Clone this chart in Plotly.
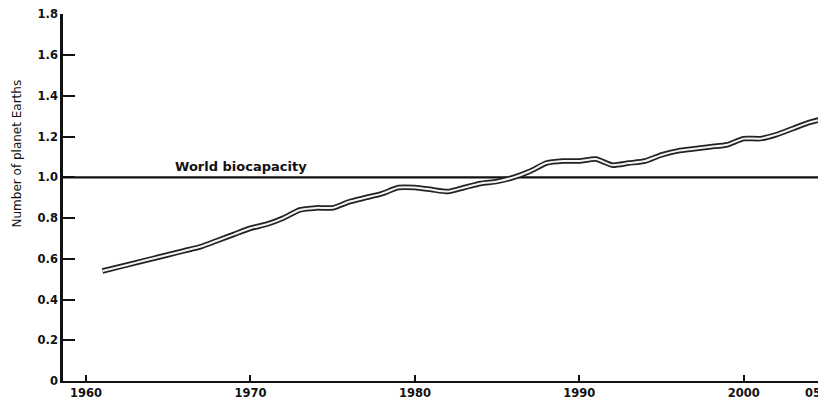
import plotly.graph_objects as go

years = list(range(1961, 2006))
footprint = [0.54, 0.56, 0.58, 0.60, 0.62, 0.64, 0.66, 0.69, 0.72, 0.75,
             0.77, 0.80, 0.84, 0.85, 0.85, 0.88, 0.90, 0.92, 0.95, 0.95,
             0.94, 0.93, 0.95, 0.97, 0.98, 1.00, 1.03, 1.07, 1.08, 1.08,
             1.09, 1.06, 1.07, 1.08, 1.11, 1.13, 1.14, 1.15, 1.16, 1.19,
             1.19, 1.21, 1.24, 1.27, 1.29]
bio_years = [1958.6, 2005.2]
biocapacity = [1.0, 1.0]
bio_label = "World biocapacity"
y_title = "Number of planet Earths"
x_tickvals = [1960, 1970, 1980, 1990, 2000, 2005]
x_ticktext = ["1960", "1970", "1980", "1990", "2000", ""]
last_tick_label = "05"
y_tickvals = [0, 0.2, 0.4, 0.6, 0.8, 1.0, 1.2, 1.4, 1.6, 1.8]
y_ticktext = ["0", "0.2", "0.4", "0.6", "0.8", "1.0", "1.2", "1.4", "1.6", "1.8"]

fig = go.Figure()
fig.add_trace(go.Scatter(x=bio_years, y=biocapacity, mode="lines",
                         line=dict(color="#111", width=2.2), hoverinfo="skip"))
fig.add_trace(go.Scatter(x=years, y=footprint, mode="lines",
                         line=dict(color="#222", width=5.5, shape="spline", smoothing=0.6),
                         hoverinfo="skip"))
fig.add_trace(go.Scatter(x=years, y=footprint, mode="lines",
                         line=dict(color="#f4f4f4", width=2, shape="spline", smoothing=0.6),
                         hoverinfo="skip"))

fig.add_annotation(x=1965.3, y=1.0, xref="x", yref="y", text=bio_label,
                   showarrow=False, xanchor="left", yanchor="bottom", yshift=1,
                   font=dict(family="DejaVu Sans", size=13, color="#111", weight="bold"))

tickfont = dict(family="DejaVu Sans", size=11.5, color="#111", weight="bold")

fig.add_annotation(x=2005, y=0, xref="x", yref="y", text=last_tick_label,
                   showarrow=False, xanchor="right", yanchor="top", yshift=-3, xshift=-3,
                   font=tickfont)
fig.add_annotation(x=0, y=0.62, xref="paper", yref="paper", text=y_title,
                   showarrow=False, textangle=-90, xanchor="center", yanchor="middle",
                   xshift=-46,
                   font=dict(family="DejaVu Sans", size=12, color="#111"))

fig.update_layout(
    width=818, height=395,
    margin=dict(l=55, r=0, t=6, b=22),
    paper_bgcolor="white", plot_bgcolor="white",
    showlegend=False,
    xaxis=dict(range=[1958.6, 2005.0], tickvals=x_tickvals, ticktext=x_ticktext,
               ticks="inside", ticklen=6, tickwidth=1.5, tickcolor="#111",
               showline=True, linecolor="#111", linewidth=2, showgrid=False,
               zeroline=False, tickfont=tickfont, ticklabeloverflow="allow"),
    yaxis=dict(range=[0, 1.802], tickvals=y_tickvals, ticktext=y_ticktext,
               ticks="inside", ticklen=12, tickwidth=1.5, tickcolor="#111",
               showline=True, linecolor="#111", linewidth=2.5, showgrid=False,
               zeroline=False, tickfont=tickfont, ticklabeloverflow="allow"),
)
fig.write_html("out.html", config={"displayModeBar": False})
